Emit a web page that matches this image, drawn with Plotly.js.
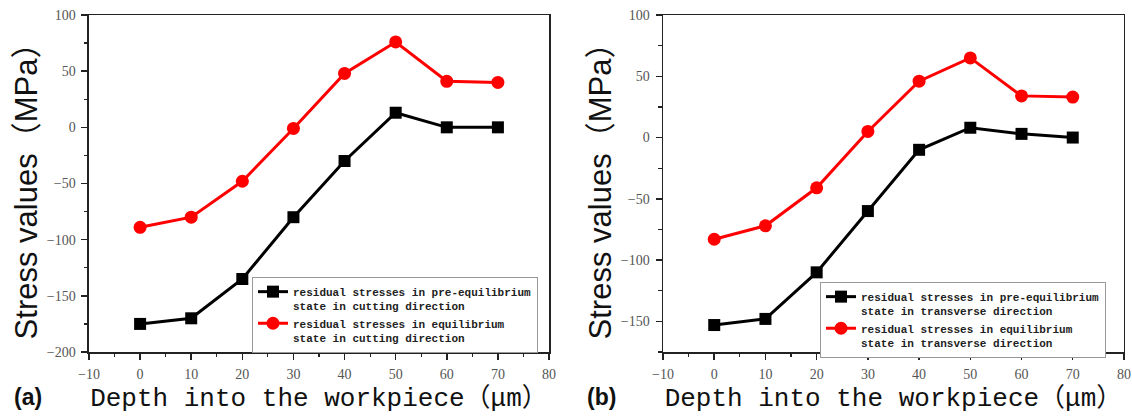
<!DOCTYPE html>
<html>
<head>
<meta charset="utf-8">
<script src="https://cdn.plot.ly/plotly-3.0.1.min.js"></script>
<style>html,body{margin:0;padding:0;background:#fff;}#chart{width:1132px;height:419px;}</style>
</head>
<body>
<div id="chart"></div>
<script>
const depth = [0, 10, 20, 30, 40, 50, 60, 70];
const cuttingPre = [-175, -170, -135, -80, -30, 13, 0, 0];
const cuttingEq = [-89, -80, -48, -1, 48, 76, 41, 40];
const transPre = [-153, -148, -110, -60, -10, 8, 3, 0];
const transEq = [-83, -72, -41, 5, 46, 65, 34, 33];
const xTitle = 'Depth into the workpiece（μm）';
const yTitle = 'Stress values（MPa）';
const legendNames = {
  cutPre: 'residual stresses in pre-equilibrium<br>state in cutting direction',
  cutEq: 'residual stresses in equilibrium<br>state in cutting direction',
  trPre: 'residual stresses in pre-equilibrium<br>state in transverse direction',
  trEq: 'residual stresses in equilibrium<br>state in transverse direction'
};
const panelLabels = ['(a)', '(b)'];

const blackLine = {color: '#000', width: 3};
const redLine = {color: '#ff0000', width: 3};
const sq = {symbol: 'square', size: 12, color: '#000'};
const ci = {symbol: 'circle', size: 13, color: '#ff0000'};

const traces = [
  {x: depth, y: cuttingPre, mode: 'lines+markers', line: blackLine, marker: sq, name: legendNames.cutPre, xaxis: 'x', yaxis: 'y', legend: 'legend'},
  {x: depth, y: cuttingEq, mode: 'lines+markers', line: redLine, marker: ci, name: legendNames.cutEq, xaxis: 'x', yaxis: 'y', legend: 'legend'},
  {x: depth, y: transPre, mode: 'lines+markers', line: blackLine, marker: sq, name: legendNames.trPre, xaxis: 'x2', yaxis: 'y2', legend: 'legend2'},
  {x: depth, y: transEq, mode: 'lines+markers', line: redLine, marker: ci, name: legendNames.trEq, xaxis: 'x2', yaxis: 'y2', legend: 'legend2'}
];

const xRange = [-10, 80];
const yRangeA = [-200, 100];
const yRangeB = [-175, 100];
const tickFont = {family: 'Liberation Serif, DejaVu Serif, serif', size: 14, color: '#555'};
const axCommon = {showgrid: false, zeroline: false, linecolor: '#222', linewidth: 1.5, tickwidth: 1.5, tickcolor: '#222', tickfont: tickFont};

function xa(domain, anchor) {
  return Object.assign({}, axCommon, {
    domain: domain, anchor: anchor, range: xRange, dtick: 10, tick0: 0,
    showline: true, mirror: true, ticks: 'outside', ticklen: 6,
    minor: {dtick: 5, ticks: 'outside', ticklen: 3.5, tickwidth: 1.2, tickcolor: '#222'},
    ticklabelstandoff: 3,
    title: {text: xTitle, font: {family: 'Liberation Mono, Noto Sans CJK SC, monospace', size: 26, color: '#111'}, standoff: 6}
  });
}
function xTop(domain, anchor, over) {
  return Object.assign({}, axCommon, {
    domain: domain, anchor: anchor, overlaying: over, side: 'top', range: xRange, dtick: 10, tick0: 0,
    showline: false, ticks: 'inside', ticklen: 6, showticklabels: false,
    minor: {dtick: 5, ticks: 'inside', ticklen: 3.5, tickwidth: 1.2, tickcolor: '#222'}
  });
}
function ya(domain, anchor, range) {
  return Object.assign({}, axCommon, {
    domain: domain, anchor: anchor, range: range, dtick: 50, tick0: 0,
    showline: true, mirror: true, ticks: 'outside', ticklen: 6,
    minor: {dtick: 25, ticks: 'outside', ticklen: 3.5, tickwidth: 1.2, tickcolor: '#222'},
    ticklabelstandoff: 3,
    title: {text: yTitle, font: {family: 'Liberation Sans, Noto Sans CJK SC, sans-serif', size: 31, color: '#111'}, standoff: 0}
  });
}
function yRight(domain, anchor, over, range) {
  return Object.assign({}, axCommon, {
    domain: domain, anchor: anchor, overlaying: over, side: 'right', range: range, dtick: 50, tick0: 0,
    showline: false, ticks: 'inside', ticklen: 6, showticklabels: false,
    minor: {dtick: 25, ticks: 'inside', ticklen: 3.5, tickwidth: 1.2, tickcolor: '#222'}
  });
}
const legFont = {family: 'Liberation Mono, DejaVu Sans Mono, monospace', size: 11, color: '#222', weight: 'bold'};
const dA = [0.0786, 0.4850], dB = [0.5857, 0.9929], dY = [0.1599, 0.9642];
const layout = {
  width: 1132, height: 419,
  margin: {l: 0, r: 0, t: 0, b: 0},
  paper_bgcolor: '#fff', plot_bgcolor: '#fff',
  showlegend: true,
  xaxis: xa(dA, 'y'),
  yaxis: ya(dY, 'x', yRangeA),
  xaxis2: xa(dB, 'y2'),
  yaxis2: ya(dY, 'x2', yRangeB),
  xaxis3: xTop(dA, 'y', 'x'),
  yaxis3: yRight(dY, 'x', 'y', yRangeA),
  xaxis4: xTop(dB, 'y2', 'x2'),
  yaxis4: yRight(dY, 'x2', 'y2', yRangeB),
  legend: {x: 0.2226, y: 0.3389, xanchor: 'left', yanchor: 'top', bgcolor: '#fff', bordercolor: '#999', borderwidth: 1, font: legFont, valign: 'top', tracegroupgap: 0, itemwidth: 30},
  legend2: {x: 0.7244, y: 0.327, xanchor: 'left', yanchor: 'top', bgcolor: '#fff', bordercolor: '#999', borderwidth: 1, font: legFont, valign: 'top', tracegroupgap: 0, itemwidth: 30},
  annotations: [
    {text: panelLabels[0], xref: 'paper', yref: 'paper', x: 28 / 1132, y: 1 - 397 / 419, xanchor: 'center', yanchor: 'middle', showarrow: false, font: {family: 'Liberation Sans, sans-serif', size: 23, color: '#111', weight: 'bold'}},
    {text: panelLabels[1], xref: 'paper', yref: 'paper', x: 601 / 1132, y: 1 - 397 / 419, xanchor: 'center', yanchor: 'middle', showarrow: false, font: {family: 'Liberation Sans, sans-serif', size: 23, color: '#111', weight: 'bold'}}
  ]
};
Plotly.newPlot('chart', traces, layout, {staticPlot: true});
</script>
</body>
</html>
